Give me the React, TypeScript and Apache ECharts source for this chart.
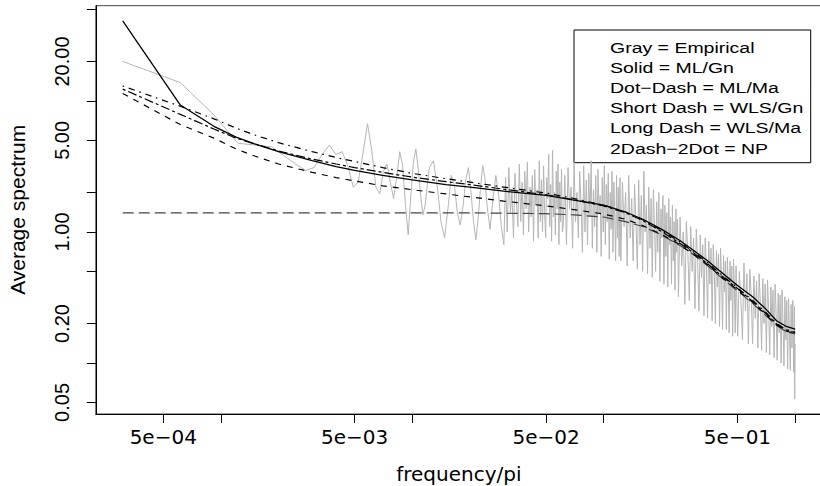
import React, { useEffect, useRef } from "react";
import * as echarts from "echarts";

// frequency/pi of the first Fourier frequency (k = 1)
const FREQ_STEP = 1 / 3256;

// Empirical (gray) average spectrum: Fourier index k and value, low frequencies
const grayKLow = [
  1, 2, 3, 4, 5, 6, 7, 8, 9, 10, 11, 12, 13, 14, 15, 16, 17, 18, 19, 20,
  21, 22, 23, 24, 25, 26, 27, 28, 29, 30, 31, 32, 33, 34, 35, 36, 37, 38, 39, 40,
  42, 44, 46, 48, 50, 52, 54, 56, 58, 60, 62, 64, 66, 68, 70, 72, 74, 76, 78, 80,
  83, 86, 89, 92, 95, 98,
];
const grayValLow = [
  20.0, 13.8, 7.8, 4.75, 4.6, 4.45, 3.8, 3.3, 2.95, 3.1, 3.9, 4.6, 3.9, 4.1, 3.2, 2.2, 2.4, 4.0, 6.7, 4.2,
  2.2, 1.95, 2.9, 3.3, 2.4, 1.8, 2.6, 4.1, 3.2, 1.6, 0.95, 1.9, 3.4, 4.3, 3.0, 1.9, 1.35, 1.6, 2.3, 3.1,
  3.5, 2.2, 1.2, 0.9, 1.5, 2.7, 2.3, 1.4, 1.13, 1.6, 2.5, 3.1, 2.0, 1.2, 0.87, 1.3, 2.2, 3.2, 2.6, 1.6,
  1.05, 1.8, 2.7, 1.9, 1.1, 0.8,
];

// Empirical spectrum, high frequencies (dense band)
const grayKHigh = [
  100, 102, 104, 106, 108, 110, 112, 114, 116, 118, 120, 122, 124, 126, 128, 130, 132, 134, 136, 138,
  140, 142, 144, 146, 148, 150, 152, 154, 156, 158, 160, 162, 164, 166, 168, 170, 172, 174, 176, 178,
  180, 182, 184, 186, 188, 190, 192, 194, 196, 198,
  200, 204, 208, 212, 216, 220, 224, 228, 232, 236, 240, 244, 248, 252, 256, 260, 264, 268, 272, 276,
  280, 284, 288, 292, 296, 300, 304, 308, 312, 316, 320, 324, 328, 332, 336, 340, 344, 348, 352, 356,
  360, 364, 368, 372, 376, 380, 384, 388, 392, 396,
  400, 408, 416, 424, 432, 440, 448, 456, 464, 472, 480, 488, 496, 504, 512, 520, 528, 536, 544, 552,
  560, 568, 576, 584, 592, 600, 608, 616, 624, 632, 640, 648, 656, 664, 672, 680, 688, 696, 704, 712,
  720, 728, 736, 744, 752, 760, 768, 776, 784, 792,
  800, 816, 832, 848, 864, 880, 896, 912, 928, 944, 960, 976, 992, 1008, 1024, 1040, 1056, 1072, 1088, 1104,
  1120, 1136, 1152, 1168, 1184, 1200, 1216, 1232, 1248, 1264, 1280, 1296, 1312, 1328, 1344, 1360, 1376, 1392, 1408, 1424,
  1440, 1456, 1472, 1488, 1504, 1520, 1536, 1552, 1568, 1584,
  1600, 1632, 1664, 1696, 1728, 1760, 1792, 1824, 1856, 1888, 1920, 1952, 1984, 2016, 2048, 2080, 2112, 2144, 2176, 2208,
  2240, 2272, 2304, 2336, 2368, 2400, 2432, 2464, 2496, 2528, 2560, 2592, 2624, 2656, 2688, 2720, 2752, 2784, 2816, 2848,
  2880, 2912, 2944, 2976, 3008, 3040, 3072, 3104, 3136, 3168, 3200, 3232, 3240, 3256,
];
const grayValHigh = [
  2.6, 1.0, 3.1, 1.4, 2.0, 0.9, 2.8, 1.7, 1.1, 3.3,
  1.2, 2.4, 0.95, 2.9, 1.5, 3.4, 1.0, 2.2, 1.3, 2.7,
  0.85, 3.0, 1.6, 2.1, 0.9, 3.5, 1.2, 2.5, 1.0, 3.2,
  1.4, 0.9, 2.6, 1.8, 3.9, 1.1, 2.3, 0.85, 4.2, 1.3,
  2.0, 0.95, 2.9, 1.5, 3.3, 0.8, 2.4, 1.2, 3.0, 1.0,
  1.1, 2.7, 0.8, 3.1, 1.5, 2.2, 0.75, 3.4, 1.2, 2.0,
  0.9, 2.9, 1.6, 0.7, 3.2, 1.0, 2.5, 0.8, 2.8, 1.3,
  3.5, 0.75, 2.1, 1.1, 2.7, 0.7, 3.0, 1.4, 1.9, 0.65,
  2.6, 1.0, 3.2, 0.8, 2.3, 1.2, 2.8, 0.62, 2.0, 1.05,
  2.9, 0.7, 2.4, 1.3, 0.6, 2.7, 0.9, 2.2, 0.65, 2.6,
  0.6, 2.4, 1.1, 2.0, 0.55, 2.7, 0.9, 1.8, 0.6, 2.3,
  1.2, 0.52, 2.5, 0.8, 1.9, 0.5, 2.9, 1.0, 1.6, 0.48,
  2.2, 0.75, 1.8, 0.45, 2.1, 1.1, 0.5, 1.7, 0.7, 2.0,
  0.42, 1.5, 0.9, 1.9, 0.4, 1.6, 0.65, 1.4, 0.38, 1.8,
  0.8, 1.3, 0.4, 1.6, 0.6, 1.2, 0.36, 1.5, 0.7, 1.25,
  0.32, 1.3, 0.55, 1.0, 0.28, 1.2, 0.7, 0.3, 1.1, 0.5,
  0.9, 0.26, 1.05, 0.6, 0.25, 0.95, 0.45, 0.8, 0.23, 0.9,
  0.55, 0.22, 0.85, 0.4, 0.75, 0.21, 0.8, 0.5, 0.2, 0.72,
  0.38, 0.68, 0.19, 0.75, 0.45, 0.18, 0.66, 0.35, 0.6, 0.18,
  0.64, 0.42, 0.17, 0.6, 0.3, 0.55, 0.16, 0.62, 0.38, 0.17,
  0.55, 0.16, 0.5, 0.3, 0.15, 0.58, 0.25, 0.48, 0.14, 0.52,
  0.33, 0.14, 0.46, 0.22, 0.42, 0.13, 0.48, 0.28, 0.125, 0.44,
  0.2, 0.4, 0.12, 0.43, 0.26, 0.115, 0.38, 0.19, 0.36, 0.11,
  0.4, 0.24, 0.105, 0.34, 0.17, 0.33, 0.1, 0.36, 0.2, 0.095,
  0.32, 0.15, 0.3, 0.09, 0.31, 0.18, 0.088, 0.28, 0.13, 0.3,
  0.085, 0.27, 0.053, 0.14,
];

// Fitted spectra (frequency/pi and values)
const modelFreq = [
  0.000307, 0.000614, 0.00092, 0.0012, 0.0015, 0.002, 0.003, 0.004, 0.005, 0.007,
  0.01, 0.015, 0.02, 0.03, 0.05, 0.07, 0.1, 0.13, 0.16, 0.2,
  0.25, 0.3, 0.35, 0.4, 0.5, 0.6, 0.7, 0.8, 0.9, 1.0,
];
const mlGn = [
  40.8, 9.3, 6.4, 5.3, 4.7, 4.1, 3.5, 3.15, 2.95, 2.7,
  2.5, 2.3, 2.2, 2.05, 1.9, 1.75, 1.6, 1.42, 1.25, 1.05,
  0.86, 0.71, 0.6, 0.51, 0.39, 0.32, 0.26, 0.21, 0.19, 0.181,
];
const mlMa = [
  13.0, 9.1, 7.3, 6.2, 5.5, 4.8, 4.1, 3.7, 3.45, 3.1,
  2.8, 2.55, 2.4, 2.2, 1.98, 1.8, 1.6, 1.42, 1.24, 1.03,
  0.84, 0.69, 0.58, 0.49, 0.375, 0.3, 0.245, 0.2, 0.18, 0.172,
];
const wlsGn = [
  11.4, 6.6, 5.2, 4.3, 3.8, 3.3, 2.85, 2.6, 2.45, 2.25,
  2.1, 1.95, 1.85, 1.72, 1.58, 1.48, 1.37, 1.25, 1.12, 0.96,
  0.8, 0.66, 0.56, 0.47, 0.36, 0.29, 0.235, 0.195, 0.175, 0.168,
];
const wlsMa = [
  1.4, 1.4, 1.4, 1.4, 1.4, 1.4, 1.4, 1.4, 1.4, 1.4,
  1.4, 1.4, 1.4, 1.39, 1.38, 1.35, 1.3, 1.2, 1.1, 0.95,
  0.79, 0.66, 0.55, 0.465, 0.355, 0.285, 0.232, 0.193, 0.173, 0.167,
];
const npEst = [
  12.3, 7.9, 6.1, 5.2, 4.7, 4.15, 3.6, 3.3, 3.1, 2.85,
  2.62, 2.42, 2.3, 2.12, 1.92, 1.76, 1.58, 1.4, 1.22, 1.01,
  0.82, 0.68, 0.57, 0.48, 0.37, 0.295, 0.24, 0.198, 0.178, 0.17,
];

// Axis ticks and labels
const xTickValues = [5e-4, 1e-3, 5e-3, 1e-2, 5e-2, 1e-1, 5e-1, 1];
const xLabelValues = [5e-4, 5e-3, 5e-2, 5e-1];
const xLabelTexts = ["5e\u221204", "5e\u221203", "5e\u221202", "5e\u221201"];
const yTickValues = [0.05, 0.1, 0.2, 0.5, 1, 2, 5, 10, 20, 50];
const yLabelValues = [0.05, 0.2, 1, 5, 20];
const yLabelTexts = ["0.05", "0.20", "1.00", "5.00", "20.00"];

const legendLines = [
  "Gray = Empirical",
  "Solid = ML/Gn",
  "Dot\u2212Dash = ML/Ma",
  "Short Dash = WLS/Gn",
  "Long Dash = WLS/Ma",
  "2Dash\u22122Dot = NP",
];

const X_MIN = 2.221e-4;
const X_MAX = 1.382;
const Y_MIN = 0.0408;
const Y_MAX = 53.3;

function lookup(v: number, vals: number[], texts: string[]) {
  const i = vals.findIndex((t) => Math.abs(Math.log10(v) - Math.log10(t)) < 1e-6);
  return i >= 0 ? texts[i] : "";
}

function pairs(xs: number[], ys: number[]) {
  return xs.map((x, i) => [x, ys[i]]);
}

export default function App() {
  const ref = useRef<HTMLDivElement>(null);
  useEffect(() => {
    if (!ref.current) return;
    const chart = echarts.init(ref.current, null, { renderer: "svg" });
    const lineBase = { type: "line", symbol: "none", showSymbol: false, silent: true, smooth: false };
    const grayK = grayKLow.concat(grayKHigh);
    const grayVals = grayValLow.concat(grayValHigh);
    const option: any = {
      animation: false,
      backgroundColor: "#ffffff",
      grid: {
        left: 95.8,
        top: 5.7,
        right: -2,
        bottom: 72,
        show: true,
        borderColor: "#444",
        borderWidth: 1,
        backgroundColor: "transparent",
        outerBoundsMode: "none",
      },
      xAxis: {
        type: "log",
        min: X_MIN,
        max: X_MAX,
        name: "frequency/pi",
        nameLocation: "middle",
        nameGap: 50,
        nameTextStyle: { fontFamily: "DejaVu Sans", fontSize: 20, color: "#000" },
        axisLine: { show: true, onZero: false, lineStyle: { color: "#000", width: 1 } },
        axisTick: { show: true, length: 9, customValues: xTickValues, lineStyle: { color: "#000", width: 1 } },
        axisLabel: {
          show: true,
          customValues: xLabelValues,
          margin: 13,
          fontFamily: "DejaVu Sans",
          fontSize: 20,
          color: "#000",
          formatter: (v: number) => lookup(v, xLabelValues, xLabelTexts),
        },
        splitLine: { show: false },
      },
      yAxis: {
        type: "log",
        min: Y_MIN,
        max: Y_MAX,
        name: "Average spectrum",
        nameLocation: "middle",
        nameGap: 68,
        nameTextStyle: { fontFamily: "Liberation Sans", fontSize: 21, color: "#000" },
        axisLine: { show: true, onZero: false, lineStyle: { color: "#000", width: 1 } },
        axisTick: { show: true, length: 9, customValues: yTickValues, lineStyle: { color: "#000", width: 1 } },
        axisLabel: {
          show: true,
          customValues: yLabelValues,
          rotate: 90,
          margin: 24,
          fontFamily: "Liberation Sans",
          fontSize: 20,
          color: "#000",
          formatter: (v: number) => lookup(v, yLabelValues, yLabelTexts),
        },
        splitLine: { show: false },
      },
      series: [
        {
          ...lineBase,
          name: "Empirical",
          data: grayK.map((k, i) => [k * FREQ_STEP, grayVals[i]]),
          lineStyle: { color: "#b5b5b5", width: 1 },
          z: 1,
        },
        {
          ...lineBase,
          name: "WLS/Ma",
          data: pairs(modelFreq, wlsMa),
          lineStyle: { color: "#444", width: 1.2, type: [11, 5] },
          z: 2,
        },
        {
          ...lineBase,
          name: "WLS/Gn",
          data: pairs(modelFreq, wlsGn),
          lineStyle: { color: "#000", width: 1.2, type: [6, 6] },
          z: 3,
        },
        {
          ...lineBase,
          name: "NP",
          data: pairs(modelFreq, npEst),
          lineStyle: { color: "#000", width: 1.2, type: [3, 3, 9, 3] },
          z: 4,
        },
        {
          ...lineBase,
          name: "ML/Ma",
          data: pairs(modelFreq, mlMa),
          lineStyle: { color: "#000", width: 1.2, type: [1.6, 4.8, 6.4, 4.8] },
          z: 5,
        },
        {
          ...lineBase,
          name: "ML/Gn",
          data: pairs(modelFreq, mlGn),
          lineStyle: { color: "#000", width: 1.3, type: "solid" },
          z: 6,
        },
      ],
      graphic: [
        {
          type: "group",
          z: 100,
          children: [
            {
              type: "rect",
              shape: { x: 574, y: 30, width: 236.7, height: 132.7 },
              style: { fill: "#ffffff", stroke: "#000", lineWidth: 1 },
            },
            ...legendLines.map((t, i) => ({
              type: "text",
              x: 610,
              y: 47.5 + i * 20.2,
              scaleX: 1.3,
              style: {
                text: t,
                fontFamily: "Liberation Sans",
                fontSize: 15,
                fill: "#000",
                align: "left",
                verticalAlign: "middle",
              },
            })),
          ],
        },
      ],
    };
    chart.setOption(option);
    return () => chart.dispose();
  }, []);
  return (
    <div
      ref={ref}
      style={{ position: "fixed", left: 0, top: 0, width: 820, height: 486, background: "#fff" }}
    />
  );
}
